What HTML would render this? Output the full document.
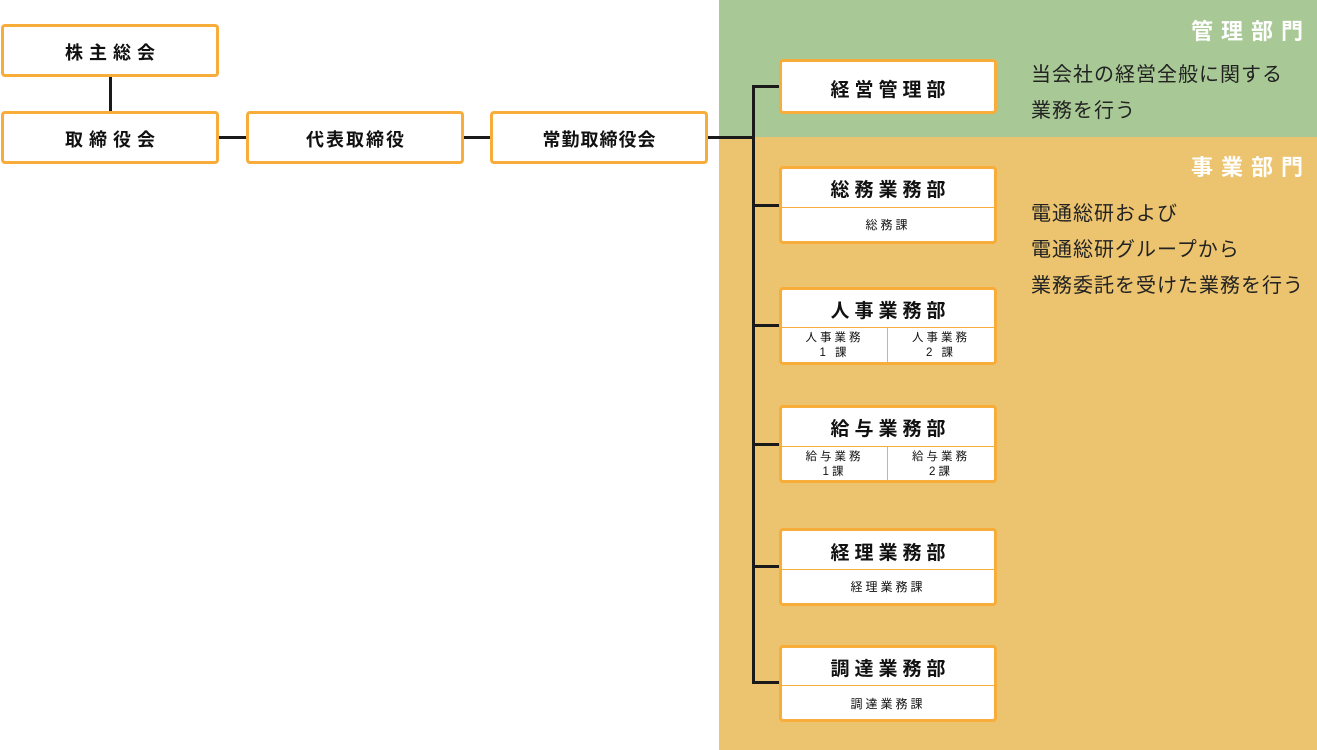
<!DOCTYPE html>
<html><head><meta charset="utf-8"><style>
*{margin:0;padding:0;box-sizing:border-box}
body{width:1317px;height:750px;position:relative;background:#fff;font-family:"Liberation Sans","Noto Sans CJK JP",sans-serif;color:#111;overflow:hidden}
.a{position:absolute}
.box{position:absolute;background:#fff;border:3px solid #f8ad3a;border-radius:4px}
.t{position:absolute;left:0;right:0;text-align:center;font-weight:bold;letter-spacing:5px;text-indent:5px}
.line{position:absolute;background:#1a1a1a}
.sub{position:absolute;left:0;right:0;border-top:1px solid #f8ad3a;font-size:12px;text-align:center;letter-spacing:3px}
.half{position:absolute;top:0;bottom:0;width:50%;text-align:center;font-size:11.5px;line-height:15px;padding-top:3px;letter-spacing:3px}
.desc{position:absolute;left:1031px;font-size:20px;letter-spacing:1px;color:#222}
.hd{position:absolute;right:6px;font-size:22px;font-weight:bold;color:#fff;letter-spacing:8px}
</style></head><body>
<div class="a" style="left:719px;top:0;width:598px;height:137px;background:#a8c996"></div>
<div class="a" style="left:719px;top:137px;width:598px;height:613px;background:#ecc46f"></div>
<div class="hd" style="top:14px">管理部門</div>
<div class="hd" style="top:150px">事業部門</div>
<div class="desc" style="top:58px">当会社の経営全般に関する</div>
<div class="desc" style="top:94px">業務を行う</div>
<div class="desc" style="top:197px">電通総研および</div>
<div class="desc" style="top:233px">電通総研グループから</div>
<div class="desc" style="top:269px">業務委託を受けた業務を行う</div>

<div class="line" style="left:109px;top:76px;width:3px;height:35px"></div>
<div class="line" style="left:218px;top:136px;width:28px;height:3px"></div>
<div class="line" style="left:463px;top:136px;width:27px;height:3px"></div>
<div class="line" style="left:707px;top:136px;width:47px;height:3px"></div>
<div class="line" style="left:752px;top:85px;width:3px;height:599px"></div>
<div class="line" style="left:752px;top:85px;width:27px;height:3px"></div>
<div class="line" style="left:752px;top:204px;width:27px;height:3px"></div>
<div class="line" style="left:752px;top:324px;width:27px;height:3px"></div>
<div class="line" style="left:752px;top:443px;width:27px;height:3px"></div>
<div class="line" style="left:752px;top:565px;width:27px;height:3px"></div>
<div class="line" style="left:752px;top:681px;width:27px;height:3px"></div>

<div class="box" style="left:1px;top:24px;width:218px;height:53px"><div class="t" style="top:12px;font-size:18px;letter-spacing:6px;text-indent:6px">株主総会</div></div>
<div class="box" style="left:1px;top:111px;width:218px;height:53px"><div class="t" style="top:12px;font-size:18px;letter-spacing:6px;text-indent:6px">取締役会</div></div>
<div class="box" style="left:246px;top:111px;width:218px;height:53px"><div class="t" style="top:12px;font-size:18px;letter-spacing:2px;text-indent:2px">代表取締役</div></div>
<div class="box" style="left:490px;top:111px;width:218px;height:53px"><div class="t" style="top:12px;font-size:18px;letter-spacing:1px;text-indent:1px">常勤取締役会</div></div>

<div class="box" style="left:779px;top:59px;width:218px;height:55px"><div class="t" style="top:13px;font-size:19px">経営管理部</div></div>

<div class="box" style="left:779px;top:166px;width:218px;height:78px"><div class="t" style="top:6px;font-size:19px">総務業務部</div><div class="sub" style="top:38px;bottom:0;padding-top:8px">総務課</div></div>

<div class="box" style="left:779px;top:287px;width:218px;height:78px"><div class="t" style="top:6px;font-size:19px">人事業務部</div><div class="sub" style="top:37px;bottom:0"><div class="half" style="left:0;border-right:1px solid #f8ad3a">人事業務<br>1 課</div><div class="half" style="left:50%">人事業務<br>2 課</div></div></div>

<div class="box" style="left:779px;top:405px;width:218px;height:78px"><div class="t" style="top:6px;font-size:19px">給与業務部</div><div class="sub" style="top:38px;bottom:0"><div class="half" style="left:0;border-right:1px solid #f8ad3a">給与業務<br>1課</div><div class="half" style="left:50%">給与業務<br>2課</div></div></div>

<div class="box" style="left:779px;top:528px;width:218px;height:78px"><div class="t" style="top:7px;font-size:19px">経理業務部</div><div class="sub" style="top:38px;bottom:0;padding-top:8px">経理業務課</div></div>

<div class="box" style="left:779px;top:645px;width:218px;height:77px"><div class="t" style="top:6px;font-size:19px">調達業務部</div><div class="sub" style="top:37px;bottom:0;padding-top:9px">調達業務課</div></div>
</body></html>
